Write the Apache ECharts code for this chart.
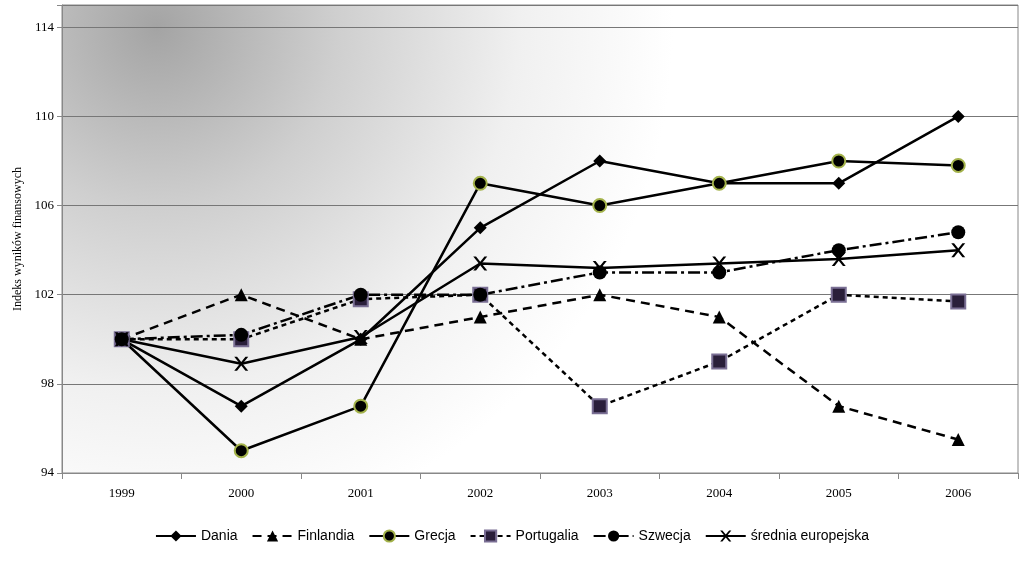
<!DOCTYPE html>
<html><head><meta charset="utf-8">
<script src="https://cdn.jsdelivr.net/npm/echarts@6/dist/echarts.min.js"></script>
<style>html,body{margin:0;background:#fff}#main{width:1024px;height:562px}</style>
</head><body><div id="main"></div>
<script>
let years = ['1999', '2000', '2001', '2002', '2003', '2004', '2005', '2006'];
let dania = [100, 97, 100, 105, 108, 107, 107, 110];
let finlandia = [100, 102, 100, 101, 102, 101, 97, 95.5];
let grecja = [100, 95, 97, 107, 106, 107, 108, 107.8];
let portugalia = [100, 100, 101.8, 102, 97, 99, 102, 101.7];
let szwecja = [100, 100.2, 102, 102, 103, 103, 104, 104.8];
let srednia = [100, 98.9, 100.1, 103.4, 103.2, 103.4, 103.6, 104];

function line(name, data, symbol, lineType, size, itemStyle) {
    return {
        name: name, type: 'line', data: data, symbol: symbol, symbolSize: size,
        lineStyle: { color: '#000', width: 2.5, type: lineType },
        itemStyle: Object.assign({ color: '#000' }, itemStyle || {}),
        emphasis: { disabled: true }
    };
}

let myChart = echarts.init(document.getElementById('main'));
let option = {
    animation: false,
    textStyle: { fontFamily: 'Liberation Serif' },
    grid: {
        left: 62, right: 6, top: 5, bottom: 89,
        show: true, borderColor: '#888', borderWidth: 1,
        backgroundColor: new echarts.graphic.RadialGradient(0.1, 0.05, 1.1, [
            { offset: 0, color: '#a4a4a4' },
            { offset: 0.35, color: '#cfcfcf' },
            { offset: 0.7, color: '#f0f0f0' },
            { offset: 1, color: '#ffffff' }
        ])
    },
    legend: {
        bottom: 14, left: 'center', itemWidth: 40, itemGap: 14,
        textStyle: { fontFamily: 'Liberation Sans', fontSize: 14, color: '#000' },
        data: ['Dania', 'Finlandia', 'Grecja', 'Portugalia', 'Szwecja', 'średnia europejska']
    },
    xAxis: {
        type: 'category', data: years, boundaryGap: true,
        axisLine: { lineStyle: { color: '#888' } },
        axisTick: { show: true, length: 6, lineStyle: { color: '#888' } },
        axisLabel: { color: '#000', fontSize: 13, margin: 14 }
    },
    yAxis: {
        type: 'value', min: 94, max: 115, interval: 4,
        name: 'Indeks wyników finansowych', nameLocation: 'middle', nameGap: 38,
        nameTextStyle: { color: '#000', fontSize: 12 },
        axisLine: { show: true, lineStyle: { color: '#888' } },
        axisTick: { show: true, lineStyle: { color: '#888' } },
        axisLabel: { color: '#000', fontSize: 13, formatter: v => v > 114 ? '' : v },
        splitLine: { lineStyle: { color: '#777', width: 1 } }
    },
    series: [
        line('Dania', dania, 'diamond', 'solid', 13),
        line('Finlandia', finlandia, 'triangle', [9, 6], 13),
        line('Grecja', grecja, 'circle', 'solid', 13, { borderColor: '#a3b24a', borderWidth: 2 }),
        line('Portugalia', portugalia, 'rect', [5, 4], 14, { color: '#2a1f3a', borderColor: '#7a6f94', borderWidth: 2 }),
        line('Szwecja', szwecja, 'circle', [12, 4, 3, 4], 14),
        line('średnia europejska', srednia, 'path://M0,0L2,0L5,3L8,0L10,0L6,4L10,8L8,8L5,5L2,8L0,8L4,4Z', 'solid', 14)
    ]
};
myChart.setOption(option);
</script></body></html>
